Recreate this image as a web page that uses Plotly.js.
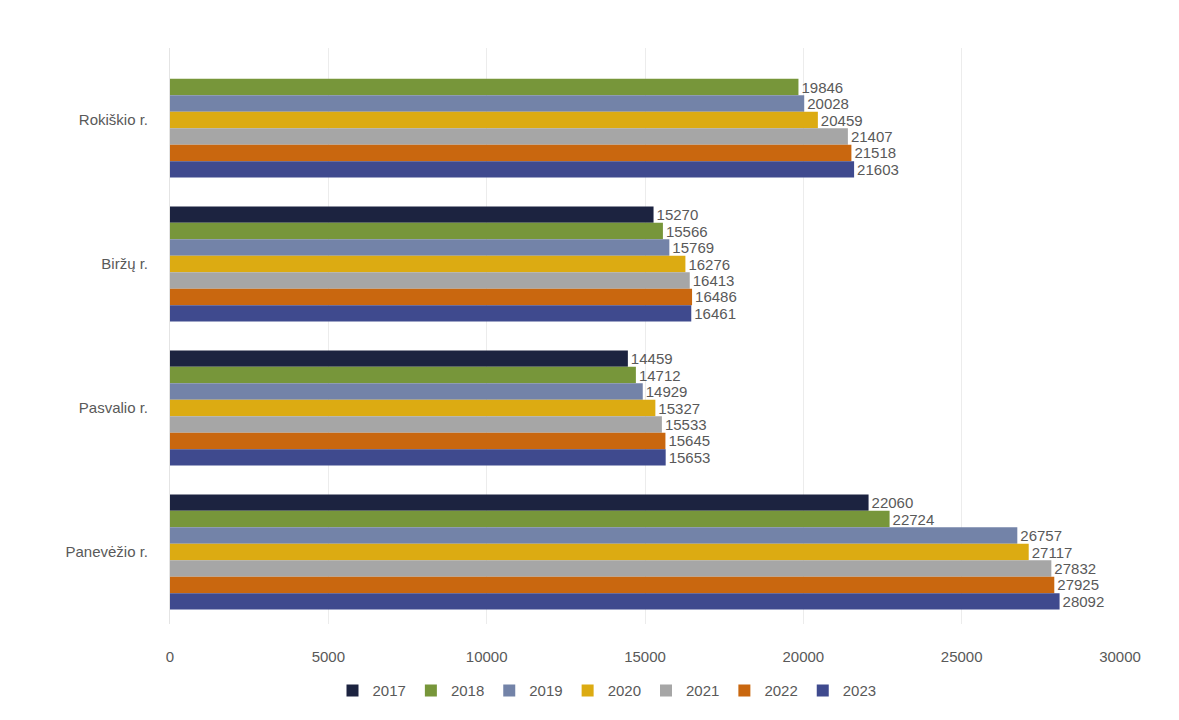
<!DOCTYPE html>
<html>
<head>
<meta charset="utf-8">
<script src="https://cdn.plot.ly/plotly-3.0.1.min.js"></script>
<style>html,body{margin:0;padding:0;background:#fff;}#chart{width:1179px;height:720px;}</style>
</head>
<body>
<div id="chart"></div>
<script>
const categories = ["Rokiškio r.", "Biržų r.", "Pasvalio r.", "Panevėžio r."];
const years = ["2017", "2018", "2019", "2020", "2021", "2022", "2023"];
const v2017 = [null, 15270, 14459, 22060];
const v2018 = [19846, 15566, 14712, 22724];
const v2019 = [20028, 15769, 14929, 26757];
const v2020 = [20459, 16276, 15327, 27117];
const v2021 = [21407, 16413, 15533, 27832];
const v2022 = [21518, 16486, 15645, 27925];
const v2023 = [21603, 16461, 15653, 28092];
const seriesValues = [v2017, v2018, v2019, v2020, v2021, v2022, v2023];
const colors = ["#1c2340", "#77963a", "#7383a8", "#dcab12", "#a6a6a6", "#c9670f", "#3f4a8e"];
const xTicks = [0, 5000, 10000, 15000, 20000, 25000, 30000];

const traces = years.map((y, i) => ({
  type: "bar",
  orientation: "h",
  name: y,
  y: categories,
  x: seriesValues[i],
  marker: {color: colors[i]},
  text: seriesValues[i].map(v => v == null ? "" : String(v)),
  textposition: "outside",
  constraintext: "none",
  cliponaxis: false,
  textfont: {family: "Liberation Sans, Arial, sans-serif", size: 15, color: "#595959"},
  hoverinfo: "x+name"
}));

const layout = {
  width: 1179, height: 720,
  paper_bgcolor: "#ffffff", plot_bgcolor: "#ffffff",
  margin: {l: 170, r: 59, t: 48, b: 96},
  barmode: "group",
  bargap: 0.2,
  bargroupgap: 0,
  font: {family: "Liberation Sans, Arial, sans-serif", color: "#595959", size: 15},
  xaxis: {
    range: [0, 30000],
    tickvals: xTicks,
    ticktext: xTicks.map(String),
    showgrid: true, gridcolor: "#ececec", gridwidth: 1,
    zeroline: false, showline: false,
    tickfont: {size: 15, color: "#595959"},
    ticks: "", ticklen: 0, ticklabelstandoff: 22
  },
  yaxis: {
    type: "category",
    categoryorder: "array", categoryarray: categories,
    autorange: "reversed",
    showgrid: false, zeroline: false,
    showline: true, linecolor: "#e4e4e4", linewidth: 1,
    ticks: "", ticklabelstandoff: 18,
    tickfont: {size: 15, color: "#595959"}
  },
  showlegend: true,
  legend: {
    orientation: "h", traceorder: "normal",
    x: 0.46, xanchor: "center", y: -0.116, yanchor: "middle",
    font: {size: 15, color: "#595959"},
    itemwidth: 30
  }
};

Plotly.newPlot("chart", traces, layout, {displayModeBar: false, staticPlot: true});
</script>
</body>
</html>
